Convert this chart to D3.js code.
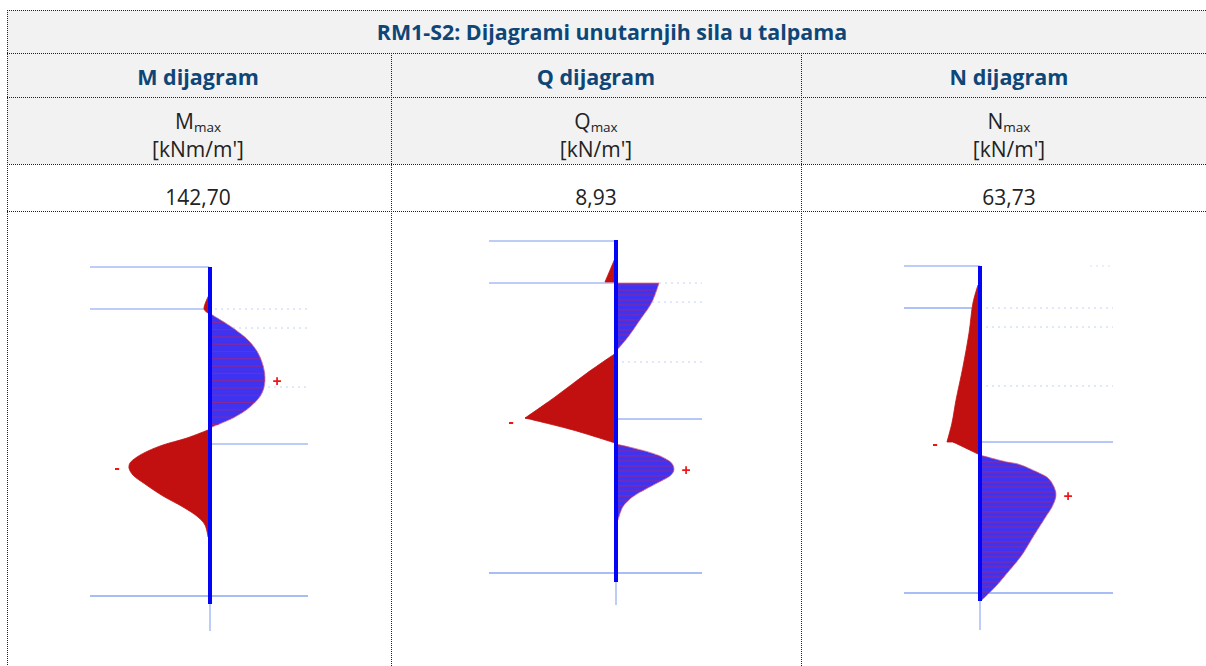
<!DOCTYPE html>
<html>
<head>
<meta charset="utf-8">
<script src="https://cdn.jsdelivr.net/npm/d3@7"></script>
<style>
  html, body { margin: 0; padding: 0; background: #fff; overflow: hidden; }
  text { font-family: "Open Sans", sans-serif; }
</style>
</head>
<body>
<div id="chart"></div>
<script>
// table texts
const title = 'RM1-S2: Dijagrami unutarnjih sila u talpama';
const headers = ['M dijagram', 'Q dijagram', 'N dijagram'];
const symbols = ['M', 'Q', 'N'];
const units = ["[kNm/m']", "[kN/m']", "[kN/m']"];
const maxLabels = ['142,70', '8,93', '63,73'];
const maxValues = [142.70, 8.93, 63.73];

// M diagram, depth in m, values in kNm/m'
const mDepths = [
  [1.4, 2.1, 2.3],
  [2.3, 3.05, 3.75, 4.5, 5.5, 6.3, 7, 7.55, 8],
  [8.15, 8.55, 8.9, 9.2, 9.5, 9.8, 10.05, 10.4, 10.85, 11.45, 12, 12.5, 12.9, 13.5]
];
const mValues = [
  [0, -8.9, -1.8],
  [0, 42.8, 73.1, 91, 99.9, 94.6, 73.1, 42.8, 5.4],
  [-1.8, -39.2, -82.1, -108.8, -128.4, -140.9, -142.7, -135.6, -114.2, -82.1, -46.4, -19.6, -7.1, -1.8]
];

// Q diagram
const qDepths = [
  [0.8, 2.1],
  [2.15, 3.1, 4, 4.85, 5.5],
  [5.65, 6.65, 7.85, 8.9],
  [8.9, 9.5, 10.15],
  [10.2, 10.42, 10.67, 10.92, 11.17, 11.47, 11.75, 12.08, 12.42, 12.83, 13.33, 14]
];
const qValues = [
  [0, -1.08],
  [4.22, 3.53, 2.35, 1.18, 0.1],
  [0, -2.84, -5.98, -8.93],
  [-8.93, -4.22, -0.1],
  [0, 1.86, 3.63, 4.81, 5.49, 5.69, 5.4, 4.32, 3.04, 1.67, 0.69, 0.2]
];

// N diagram
const nDepths = [
  [0.95, 1.85, 3.35, 5.05, 6.7, 7.85, 8.8],
  [8.8, 9.4],
  [9.45, 9.8, 9.9, 10.3, 10.6, 11.05, 11.45, 11.95, 12.6, 13.55, 14.45, 15.3, 15.95, 16.7]
];
const nValues = [
  [-1.7, -5.9, -9.2, -14.3, -20.1, -23.5, -27.7],
  [-22.6, -1.7],
  [0, 22.6, 31.9, 47.8, 57, 62.1, 63.73, 61.2, 54.5, 44.4, 35.2, 23.5, 14.3, 1.7]
];

// soil levels, depth in m
const leftLevels = [[0, 2.1], [0.05, 2.15], [0, 2.1]];
const rightLevels = [[8.85], [8.95], [8.8]];
const fullLevels = [[16.45], [16.65], [16.35]];
const dottedLevels = [[2.1, 3.05, 6], [2.15, 3.1, 6.1], [2.1, 3.05, 6]];
const wallLengths = [16.85, 17.1, 16.75];

const width = 1206;
const height = 666;
const rowY = [10, 53, 97, 164, 211, 666];
const colX = [7, 391, 801, 1206];
const navy = '#0d4677';
const lineBlue = '#a9bdf5';

const panels = [
  { wall: 209, wallLine: 210, top: 267, left: 90, right: 308, px: 80, stem: 631, plus: [277, 381], minus: [117, 467], hatch: 7.3, depths: mDepths, values: mValues, dotFrom: [209, 233, 262] },
  { wall: 616, wallLine: 616, top: 240, left: 489, right: 702, px: 91, stem: 605, plus: [686, 470], minus: [511, 421], hatch: 5, depths: qDepths, values: qValues, dotFrom: [659, 652, 616] },
  { wall: 980, wallLine: 980, top: 266, left: 904, right: 1113, px: 76, stem: 630, plus: [1068, 496], minus: [935, 443], hatch: 5, depths: nDepths, values: nValues, dotFrom: [980, 980, 980] }
];

const svg = d3.select('#chart').append('svg')
  .attr('width', width)
  .attr('height', height)
  .style('display', 'block');

// 1) header background
svg.append('rect')
  .attr('x', colX[0])
  .attr('y', rowY[0])
  .attr('width', width - colX[0])
  .attr('height', rowY[3] - rowY[0])
  .attr('fill', '#f2f2f2');

// 2) dotted grid of the table
const dotted = (x1, y1, x2, y2) => svg.append('line')
  .attr('x1', x1).attr('y1', y1).attr('x2', x2).attr('y2', y2)
  .attr('stroke', '#222')
  .attr('stroke-width', 1)
  .attr('stroke-dasharray', '1 1');

rowY.slice(0, 5).forEach(y => dotted(colX[0], y + 0.5, width, y + 0.5));
dotted(colX[0] + 0.5, rowY[0], colX[0] + 0.5, height);
dotted(colX[1] + 0.5, rowY[1], colX[1] + 0.5, height);
dotted(colX[2] + 0.5, rowY[1], colX[2] + 0.5, height);

// 3) table text
svg.append('text')
  .attr('x', 612)
  .attr('y', 40)
  .attr('text-anchor', 'middle')
  .attr('font-size', '21.4px')
  .attr('font-weight', 700)
  .attr('fill', navy)
  .text(title);

const colCentre = i => [198, 596, 1009][i];

headers.forEach((h, i) => {
  svg.append('text')
    .attr('x', colCentre(i))
    .attr('y', 85)
    .attr('text-anchor', 'middle')
    .attr('font-size', '21.5px')
    .attr('font-weight', 700)
    .attr('fill', navy)
    .text(h);

  const sym = svg.append('text')
    .attr('x', colCentre(i))
    .attr('y', 129)
    .attr('text-anchor', 'middle')
    .attr('font-size', '21px')
    .attr('fill', '#222');
  sym.append('tspan').text(symbols[i]);
  sym.append('tspan').attr('font-size', '13.5px').attr('dy', 3).text('max');

  svg.append('text')
    .attr('x', colCentre(i))
    .attr('y', 157)
    .attr('text-anchor', 'middle')
    .attr('font-size', '21px')
    .attr('fill', '#222')
    .text(units[i]);

  svg.append('text')
    .attr('x', colCentre(i))
    .attr('y', 205)
    .attr('text-anchor', 'middle')
    .attr('font-size', '21px')
    .attr('fill', '#222')
    .text(maxLabels[i]);
});

// 4) diagrams, slightly soft like the scaled picture in the table
panels.forEach((p, i) => {
  const g = svg.append('g').style('filter', 'blur(0.4px)');
  const y = d3.scaleLinear().domain([0, 1]).range([p.top, p.top + 20]);
  const x = d3.scaleLinear().domain([0, maxValues[i]]).range([p.wall, p.wall + p.px]);

  const hline = (depth, x1, x2, color, w) => g.append('line')
    .attr('x1', x1).attr('x2', x2)
    .attr('y1', y(depth)).attr('y2', y(depth))
    .attr('stroke', color)
    .attr('stroke-width', w);

  // soil levels behind the fill
  leftLevels[i].forEach((d, k) => hline(d, p.left, p.wall, (i === 2 && k === 1) ? '#5f85f0' : lineBlue, (i === 2 && k === 1) ? 1 : 1.6));
  rightLevels[i].forEach(d => hline(d, p.wall, p.right, i === 0 ? lineBlue : '#6f8ff0', i === 0 ? 1.6 : 1));
  fullLevels[i].forEach(d => hline(d, p.left, p.right, lineBlue, 2));
  dottedLevels[i].forEach((d, k) => hline(d, p.dotFrom[k], p.right, '#c3d0f7', 1).attr('stroke-dasharray', '2 4'));
  if (i === 2) hline(0, 1090, p.right, '#d5def9', 1).attr('stroke-dasharray', '2 4');

  // stem under the wall
  g.append('line')
    .attr('x1', p.wallLine).attr('x2', p.wallLine)
    .attr('y1', y(wallLengths[i])).attr('y2', p.stem)
    .attr('stroke', lineBlue)
    .attr('stroke-width', 1.5);

  // filled segments of the diagram
  p.depths.forEach((depths, k) => {
    const vals = p.values[k];
    const rows = depths.map((d, j) => ({ d, v: vals[j] }));
    const positive = d3.sum(vals) > 0;
    const area = d3.area()
      .y(r => y(r.d))
      .x0(x(0))
      .x1(r => x(r.v))
      .curve(rows.length > 2 ? d3.curveCatmullRom.alpha(0.5) : d3.curveLinear);

    const clipId = `clip-${i}-${k}`;
    g.append('clipPath').attr('id', clipId)
      .append('path').attr('d', area(rows));

    g.append('path')
      .attr('d', area(rows))
      .attr('fill', positive ? '#3f33f2' : '#c21010')
      .attr('stroke', positive ? '#e0708c' : '#c21010')
      .attr('stroke-width', 0.8);

    // red hatching across the segment
    if (positive) {
      g.append('g')
        .attr('clip-path', `url(#${clipId})`)
        .selectAll('line')
        .data(d3.range(y(depths[0]) + 2, y(depths[depths.length - 1]), p.hatch))
        .enter().append('line')
          .attr('x1', p.wall)
          .attr('x2', p.wall + p.px)
          .attr('y1', d => d)
          .attr('y2', d => d)
          .attr('stroke', '#b0246a')
          .attr('stroke-opacity', 0.75)
          .attr('stroke-width', 1);
    }
  });

  // the wall itself
  g.append('line')
    .attr('x1', p.wallLine).attr('x2', p.wallLine)
    .attr('y1', y(0)).attr('y2', y(wallLengths[i]))
    .attr('stroke', '#0505f5')
    .attr('stroke-width', 4);

  // sign marks
  g.append('text')
    .attr('x', p.plus[0]).attr('y', p.plus[1])
    .attr('dy', '0.35em')
    .attr('text-anchor', 'middle')
    .attr('font-size', '16px')
    .attr('font-weight', 700)
    .attr('fill', '#f01515')
    .text('+');
  g.append('text')
    .attr('x', p.minus[0]).attr('y', p.minus[1])
    .attr('dy', '0.35em')
    .attr('text-anchor', 'middle')
    .attr('font-size', '16px')
    .attr('font-weight', 700)
    .attr('fill', '#f01515')
    .text('-');
});
</script>
</body>
</html>
